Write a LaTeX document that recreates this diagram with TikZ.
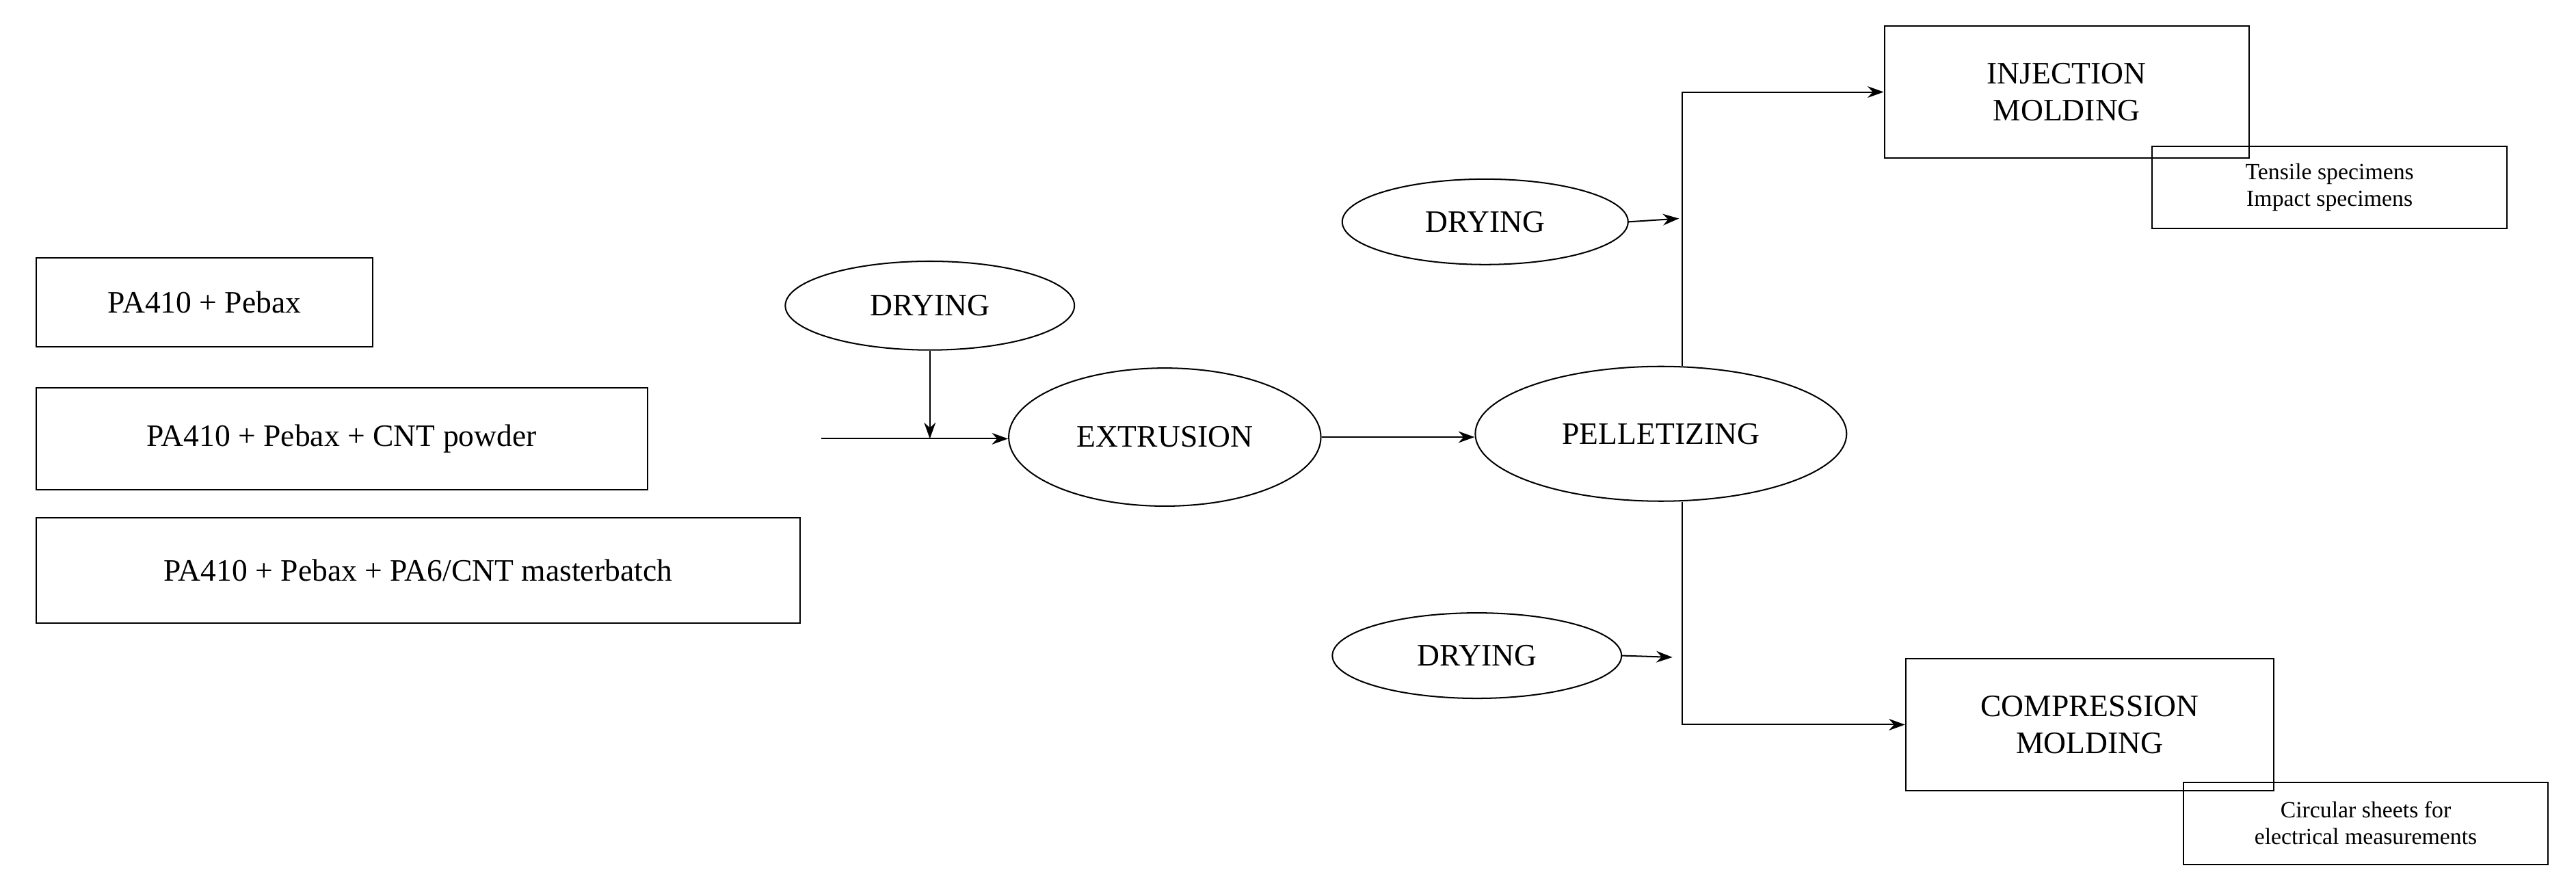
\documentclass[tikz,border=0pt]{standalone}
\usepackage{fontspec}
\setmainfont{Liberation Serif}
\usetikzlibrary{shapes.geometric,arrows.meta}
\tikzset{
    every node/.style={font=\fontsize{27}{32}\selectfont},
    stage/.style={draw, line width=1.2pt, ellipse, inner sep=0pt},
    feed/.style={draw, line width=1.2pt, rectangle, inner sep=0pt},
    note/.style={draw, line width=1.2pt, rectangle, inner sep=0pt, align=center, font=\fontsize{20}{23}\selectfont},
    flow/.style={line width=1.2pt, -{Stealth[length=14pt,width=10pt]}}
}
\begin{document}
\begin{tikzpicture}[x=0.05cm, y=-0.05cm]
    \useasboundingbox (0,0) rectangle (1568,545);

    % Feed mixtures
    \node[feed, minimum width=205*0.05cm, minimum height=54*0.05cm] (mixa) at (124.5,184) {PA410 + Pebax};
    \node[feed, minimum width=372*0.05cm, minimum height=62*0.05cm] (mixb) at (208,267) {PA410 + Pebax + CNT powder};
    \node[feed, minimum width=465*0.05cm, minimum height=64*0.05cm] (mixc) at (254.5,347) {PA410 + Pebax + PA6/CNT masterbatch};

    % Processing stages
    \node[stage, minimum width=176*0.05cm, minimum height=54*0.05cm] (dryone) at (566,186) {DRYING};
    \node[stage, minimum width=190*0.05cm, minimum height=84*0.05cm] (extrusion) at (709,266) {EXTRUSION};
    \node[stage, minimum width=226*0.05cm, minimum height=82*0.05cm] (pellet) at (1011,264) {PELLETIZING};
    \node[stage, minimum width=174*0.05cm, minimum height=52*0.05cm] (drytwo) at (904,135) {DRYING};
    \node[stage, minimum width=176*0.05cm, minimum height=52*0.05cm] (drythree) at (899,399) {DRYING};

    % Molding and specimens
    \node[feed, minimum width=222*0.05cm, minimum height=80*0.05cm, align=center] (inject) at (1258,56) {INJECTION\\MOLDING};
    \node[note, minimum width=216*0.05cm, minimum height=50*0.05cm] (tensile) at (1418,114) {Tensile specimens\\Impact specimens};
    \node[feed, minimum width=224*0.05cm, minimum height=80*0.05cm, align=center] (compress) at (1272,441) {COMPRESSION\\MOLDING};
    \node[note, minimum width=222*0.05cm, minimum height=50*0.05cm] (sheets) at (1440,501) {Circular sheets for\\electrical measurements};

    % Connectors
    \coordinate (start) at (500,267);
    \coordinate (upbend) at (1024,56);
    \coordinate (downbend) at (1024,441);
    \coordinate (uptarget) at (1022,133);
    \coordinate (downtarget) at (1018,400);
    \draw[flow] (start) -- (extrusion.west |- start);
    \draw[flow] (dryone.south) -- (dryone.south |- start);
    \draw[flow] (extrusion.east) -- (pellet.west |- extrusion.east);
    \draw[flow] (pellet.north -| upbend) -- (upbend) -- (inject.west);
    \draw[flow] (pellet.south -| downbend) -- (downbend) -- (compress.west);
    \draw[flow] (drytwo.east) -- (uptarget);
    \draw[flow] (drythree.east) -- (downtarget);
\end{tikzpicture}
\end{document}
